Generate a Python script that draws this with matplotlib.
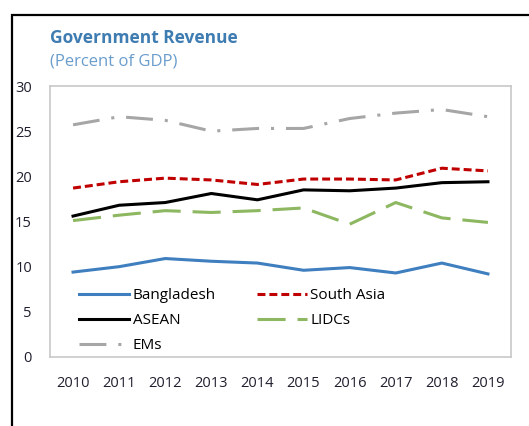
import matplotlib.pyplot as plt
from matplotlib.patches import Rectangle

years = [2010, 2011, 2012, 2013, 2014, 2015, 2016, 2017, 2018, 2019]
bangladesh = [9.4, 10.0, 10.9, 10.6, 10.4, 9.6, 9.9, 9.3, 10.4, 9.2]
south_asia = [18.7, 19.4, 19.8, 19.6, 19.1, 19.7, 19.7, 19.6, 20.9, 20.6]
asean = [15.6, 16.8, 17.1, 18.1, 17.4, 18.5, 18.4, 18.7, 19.3, 19.4]
lidcs = [15.1, 15.7, 16.2, 16.0, 16.2, 16.5, 14.7, 17.1, 15.4, 14.9]
ems = [25.7, 26.6, 26.2, 25.0, 25.3, 25.3, 26.4, 27.0, 27.4, 26.6]

plt.rcParams['font.family'] = ['Open Sans', 'DejaVu Sans']

fig = plt.figure(figsize=(5.29, 4.26), dpi=100)
ax = fig.add_axes([50 / 529, 69 / 426, 461 / 529, 271 / 426])

x = list(range(len(years)))
lw = 2.2
l_bd, = ax.plot(x, bangladesh, color='#3f7fbf', lw=lw, label='Bangladesh')
l_sa, = ax.plot(x, south_asia, color='#c00000', lw=lw, ls=(0, (2.6, 1.3)), label='South Asia')
l_as, = ax.plot(x, asean, color='black', lw=lw, label='ASEAN')
l_li, = ax.plot(x, lidcs, color='#8db760', lw=lw, ls=(0, (9.2, 3.9)), label='LIDCs')
l_em, = ax.plot(x, ems, color='#a6a6a6', lw=lw, ls=(0, (8.8, 3.9, 1, 3.9)), label='EMs')

ax.set_xlim(-0.5, len(years) - 0.5)
ax.set_ylim(0, 30)
ax.set_yticks([0, 5, 10, 15, 20, 25, 30])
ax.set_xticks(x)
ax.set_xticklabels([str(y) for y in years])
ax.tick_params(axis='both', length=0, labelsize=10.5, labelcolor='#1f1f2f')
ax.tick_params(axis='y', pad=13)
ax.tick_params(axis='x', pad=14)
for s in ax.spines.values():
    s.set_color('#c8c8c8')
    s.set_linewidth(1.2)

# legend filled column-wise, so order handles to read row by row
handles = [l_bd, l_as, l_em, l_sa, l_li]
ax.legend(handles=handles, labels=[h.get_label() for h in handles],
          loc='lower left', ncol=2, frameon=False, fontsize=11,
          handlelength=3.3, handletextpad=0.2, columnspacing=2.7,
          labelspacing=0.65, borderpad=0, borderaxespad=0,
          bbox_to_anchor=(0.063, 0.015))

fig.text(50 / 529, 1 - 38 / 426, 'Government Revenue', fontsize=12.5,
         fontweight='bold', color='#3e7cb1', va='center')
fig.text(50 / 529, 1 - 62 / 426, '(Percent of GDP)', fontsize=12,
         color='#6a9ccc', va='center')

# outer frame around the panel
fig.patches.append(Rectangle((12 / 529, -0.1), 1.0, 1 - 15 / 426 + 0.1,
                             transform=fig.transFigure, fill=False,
                             edgecolor='black', lw=1.6))

fig.savefig('out.png', dpi=100)
